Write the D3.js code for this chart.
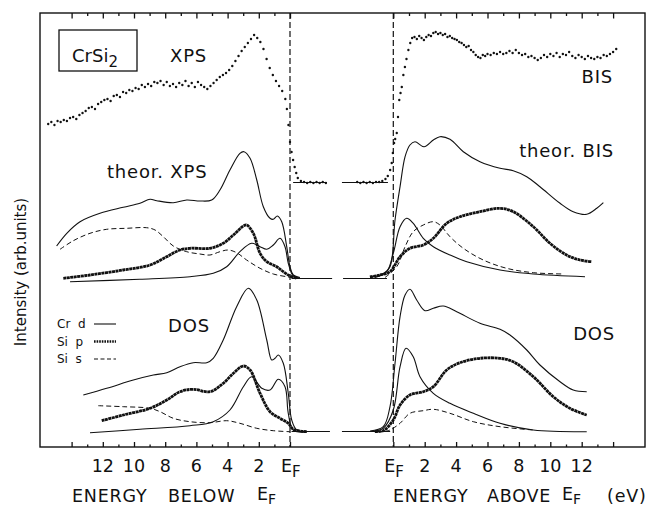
<!DOCTYPE html>
<html>
<head>
<meta charset="utf-8">
<title>CrSi2 XPS / BIS</title>
<script src="https://d3js.org/d3.v7.min.js"></script>
<style>
  body { margin: 0; background: #fff; }
  text { font-family: "DejaVu Sans", sans-serif; fill: #111; }
</style>
</head>
<body>
<div id="chart"></div>
<script>
// ---- data: [energy (eV from E_F), intensity (arb. units)] ----
// left panel: energy below E_F, right panel: energy above E_F

const xpsExp = [
  [15.5,323],[15.3,325],[15.1,322],[14.9,326],[14.7,325],[14.5,327],[14.3,326],[14.1,329],
  [13.9,330],[13.7,328],[13.5,332],[13.3,334],[13.1,336],[12.9,339],[12.7,340],[12.5,338],
  [12.3,343],[12.1,345],[11.9,347],[11.7,348],[11.5,346],[11.3,351],[11.1,352],[10.9,350],
  [10.7,355],[10.5,354],[10.3,357],[10.1,356],[9.9,359],[9.7,358],[9.5,362],[9.3,360],
  [9.1,363],[8.9,361],[8.7,365],[8.5,364],[8.3,366],[8.1,362],[7.9,365],[7.7,361],
  [7.5,363],[7.3,360],[7.1,364],[6.9,362],[6.7,366],[6.5,361],[6.3,364],[6.1,360],
  [5.9,365],[5.7,362],[5.5,360],[5.3,358],[5.1,361],[4.9,364],[4.7,367],[4.5,370],
  [4.3,372],[4.1,374],[3.9,377],[3.7,381],[3.5,386],[3.3,391],[3.1,396],[2.9,400],
  [2.7,404],[2.5,408],[2.3,412],[2.1,409],[1.9,405],[1.7,398],[1.5,388],[1.3,379],
  [1.1,372],[0.9,366],[0.7,361],[0.5,356],[0.3,348],[0.2,338],[0.1,322],[0.0,305],
  [-0.1,295],[-0.2,287],[-0.3,280],[-0.4,274],[-0.5,269],[-0.7,266],[-0.9,265],[-1.1,264],
  [-1.3,265],[-1.5,264],[-1.7,265],[-1.9,264],[-2.1,265],[-2.3,264]
];

const bisExp = [
  [-2.3,265],[-2.1,264],[-1.9,265],[-1.7,264],[-1.5,265],[-1.3,264],[-1.1,265],[-0.9,265],
  [-0.7,266],[-0.5,268],[-0.35,271],[-0.2,277],[-0.1,284],[-0.03,294],[0.05,304],[0.12,308],
  [0.22,314],[0.3,330],[0.38,347],[0.46,354],[0.54,360],[0.64,372],[0.74,380],[0.84,388],
  [0.96,397],[1.08,404],[1.2,409],[1.35,410],[1.5,408],[1.65,411],[1.8,409],[1.95,407],
  [2.1,410],[2.25,412],[2.4,411],[2.55,414],[2.7,415],[2.85,413],[3.0,414],[3.15,412],
  [3.3,413],[3.45,410],[3.6,411],[3.75,409],[3.9,408],[4.05,407],[4.2,405],[4.35,404],
  [4.5,402],[4.65,400],[4.8,401],[4.95,397],[5.1,395],[5.25,392],[5.4,390],[5.55,389],
  [5.7,392],[5.85,391],[6.0,393],[6.2,392],[6.4,394],[6.6,393],[6.8,395],[7.0,393],
  [7.2,394],[7.4,396],[7.6,394],[7.8,397],[8.0,394],[8.2,392],[8.4,393],[8.6,390],
  [8.8,391],[9.0,389],[9.2,387],[9.4,389],[9.6,392],[9.8,390],[10.0,393],[10.2,391],
  [10.4,394],[10.6,390],[10.8,393],[11.0,392],[11.2,395],[11.4,391],[11.6,389],[11.8,392],
  [12.0,390],[12.2,388],[12.4,391],[12.6,389],[12.8,388],[13.0,390],[13.2,389],[13.4,392],
  [13.6,391],[13.8,393],[14.0,395],[14.2,398]
];

// theoretical XPS (left)
const thXpsTotal = [
  [14.96,201],[14.31,213.7],[13.46,225.3],[12.18,233.7],[10.69,239.7],[9.62,243.7],[8.97,247.7],
  [8.54,246.3],[7.48,244.3],[6.62,247],[5.77,246],[5.02,247],[4.49,257],[3.85,277],[3.21,293.7],
  [2.95,295.3],[2.56,288.7],[2.13,267],[1.71,240.3],[1.28,228.7],[1.07,227.7],[0.81,231],
  [0.53,225.3],[0.21,200.3],[0,180.3],[-0.21,172],[-0.64,169.5]
];
const thXpsCrd = [
  [14.1,165.3],[9.62,167.7],[6.41,170.3],[4.92,173.7],[4.06,180.3],[3.21,195.3],[2.46,203.7],
  [1.92,200.3],[1.49,197.7],[1.07,202],[0.64,208.7],[0.32,200.3],[0.11,183.7],[-0.21,171],[-0.64,168.7]
];
const thXpsSip = [
  [14.53,168.7],[12.82,172],[10.69,177],[8.97,182],[7.9,190.3],[7.05,197],[6.41,198.7],[5.13,198.7],
  [4.28,203.7],[3.63,212],[2.99,221],[2.78,222],[2.35,213.7],[1.92,193.7],[1.49,185.3],[0.85,180.3],
  [0.43,175.3],[0,171],[-0.43,168.7]
];
const thXpsSis = [
  [14.74,197.7],[13.89,206.3],[12.82,213.7],[11.75,217.7],[10.47,218.7],[9.19,219.3],[8.65,217],
  [8.12,210.3],[7.48,201],[6.62,195.3],[5.77,193],[5.13,192],[4.49,195.3],[3.96,197],[3.42,194.3],
  [2.78,187],[1.92,178.7],[1.07,173],[0.21,170.3],[-0.32,169]
];

// theoretical BIS (right)
const thBisTotal = [
  [-1.48,170],[-0.66,173],[-0.21,180.3],[0.11,227],[0.43,260.3],[0.75,290.3],[1.06,302],[1.38,305.3],
  [1.96,300.3],[2.55,307],[2.97,310.3],[3.61,307.7],[4.46,295.3],[5.52,285.3],[6.8,278.7],[7.64,276.3],
  [8.5,270.3],[9.34,260.3],[10.62,243.7],[11.46,235.3],[12.32,232.7],[12.96,238.7],[13.38,244.3]
];
const thBisCrd = [
  [-1.17,169.5],[-0.42,175.3],[0,193.7],[0.43,220.3],[0.85,228.7],[1.27,223.7],[1.91,208.7],
  [2.55,200.3],[3.61,192],[4.68,185.3],[6.8,177],[8.92,173],[12.21,170.3]
];
const thBisSip = [
  [-1.49,170],[-0.85,172],[-0.21,175.3],[0.43,190.3],[1.06,198.7],[1.91,202],[2.55,208.7],[3.4,223.7],
  [4.25,230.3],[5.52,235.3],[6.8,238.7],[7.64,235.3],[8.92,220.3],[9.98,203.7],[11.04,192],
  [11.89,187],[12.64,185.3]
];
const thBisSis = [
  [-0.53,169.5],[0.22,180.3],[0.75,200.3],[1.27,215.3],[1.91,222],[2.55,225.3],[2.97,222],
  [3.61,210.3],[4.46,198.7],[5.73,187],[7.22,178.7],[8.92,174.3],[10.83,173]
];

// DOS (left)
const dosLTotal = [
  [13.25,52],[11.75,58.7],[10.04,67],[8.76,72],[7.9,74.3],[7.05,80.3],[6.2,84.3],[5.34,84.3],
  [4.92,88.7],[4.28,107],[3.42,140.3],[2.67,158.7],[2.13,147],[1.49,107],[1.17,87],[0.96,88.7],
  [0.75,92],[0.43,83.7],[0.11,53.7],[-0.11,27],[-0.43,17],[-1.07,15.3]
];
const dosLCrd = [
  [12.82,14.3],[9.62,17.7],[6.41,21.3],[4.92,25.3],[3.85,37],[2.99,60.3],[2.46,70.3],[1.81,58.7],
  [1.28,57],[0.75,67.7],[0.32,60.3],[0.11,33.7],[-0.21,17],[-1.07,15]
];
const dosLSip = [
  [12.07,26.3],[10.69,32],[8.97,38.7],[7.9,47],[7.05,55.3],[6.2,57.7],[5.13,55.3],[4.28,63.7],
  [3.63,73.7],[2.99,81],[2.56,77],[1.92,53.7],[1.28,35.3],[0.64,28.7],[0.11,23.7],[-0.21,17.7],[-1.07,15.3]
];
const dosLSis = [
  [12.29,41.3],[10.69,40.3],[8.97,38.7],[8.33,35.3],[7.48,28.7],[6.41,25.3],[5.13,24.3],[4.06,26.3],
  [3.21,23.7],[2.13,18.7],[1.07,16.3],[0,15.3]
];

// DOS (right)
const dosRTotal = [
  [-1.48,16],[-0.64,20.3],[-0.21,40.3],[0.11,83.7],[0.43,130.3],[0.75,152],[1.06,157.7],[1.49,147],
  [2.02,136.3],[2.55,138.7],[3.18,141],[4.04,135.3],[5.52,123.7],[6.8,117.7],[7.43,112],[8.5,97],
  [9.34,82],[10.62,65.3],[11.46,57],[12.32,55.3]
];
const dosRCrd = [
  [-1.48,15.5],[-0.64,18.7],[0,37],[0.43,80.3],[0.81,98.7],[1.27,90.3],[1.7,70.3],[2.55,53.7],
  [3.61,43.7],[5.1,33.7],[6.8,23.7],[8.92,17],[12.32,15.3]
];
const dosRSip = [
  [-1.17,15.5],[-0.64,16.3],[0,27],[0.43,42],[1.06,52],[1.91,55.3],[2.55,60.3],[3.4,77],[4.25,84.3],
  [5.52,88.7],[6.8,88.7],[7.64,85.3],[8.92,70.3],[10.19,50.3],[11.25,38.7],[12.32,32]
];
const dosRSis = [
  [-0.53,15.5],[-0.21,17],[0.43,23.7],[1.06,33.7],[1.91,36.3],[2.55,37.7],[3.61,33.7],[5.1,25.3],
  [6.8,20.3],[8.92,17]
];

// zero lines continued into the gap between the two panels: [from, to, level]
const gapLeft  = [[-0.2,-2.37,264.5],[-0.1,-2.7,168.5],[-0.1,-2.56,15.5]];
const gapRight = [[-3.27,-0.34,264.5],[-3.2,-0.4,168.5],[-3.27,-0.2,15.5]];

const tickVals = d3.range(0, 15);
const tickLabels = {2:"2",4:"4",6:"6",8:"8",10:"10",12:"12"};

// ---- layout ----
const W = 654, H = 510;
const frame = {left: 40, top: 13, right: 645, bottom: 447};

const svg = d3.select("#chart").append("svg")
    .attr("width", W).attr("height", H);

const xL = d3.scaleLinear().domain([0, 14]).range([290, 290 - 14 * 15.6]);
const xR = d3.scaleLinear().domain([0, 14]).range([393.3, 393.3 + 14 * 15.7]);
const y  = d3.scaleLinear().domain([0, 434]).range([frame.bottom, frame.top]);

// frame
svg.append("rect")
    .attr("x", frame.left).attr("y", frame.top)
    .attr("width", frame.right - frame.left).attr("height", frame.bottom - frame.top)
    .attr("fill", "none").attr("stroke", "#111").attr("stroke-width", 1.4);

// ticks
function ticks(scale) {
  const major = tickVals.filter(d => d % 2 === 0), minor = tickVals.filter(d => d % 2 === 1);
  [[major, 5], [minor, 2.5]].forEach(([vals, len]) => {
    const b = svg.append("g").attr("transform", "translate(0," + frame.bottom + ")")
        .call(d3.axisBottom(scale).tickValues(vals).tickSize(-len).tickFormat(""));
    const t = svg.append("g").attr("transform", "translate(0," + frame.top + ")")
        .call(d3.axisTop(scale).tickValues(vals).tickSize(-(len + 0.5)).tickFormat(""));
    [b, t].forEach(g => {
      g.select(".domain").remove();
      g.selectAll("line").attr("stroke", "#111").attr("stroke-width", 1.3);
    });
  });
  // labels
  const lab = svg.append("g").attr("font-size", 17.5);
  major.filter(d => tickLabels[d]).forEach(d => {
    lab.append("text").attr("x", scale(d)).attr("y", 472)
      .attr("text-anchor", "middle").text(tickLabels[d]);
  });
  const ef = lab.append("text").attr("x", scale(0) - 9).attr("y", 472);
  ef.append("tspan").text("E");
  ef.append("tspan").attr("dy", 5).attr("font-size", 15).text("F");
}
ticks(xL);
ticks(xR);

// dashed E_F lines
[xL(0), xR(0)].forEach(x => {
  svg.append("line").attr("x1", x).attr("x2", x)
     .attr("y1", frame.top).attr("y2", frame.bottom)
     .attr("stroke", "#111").attr("stroke-width", 1.2).attr("stroke-dasharray", "6,3");
});

// gap zero lines
function gaps(list, scale) {
  list.forEach(([a, b, v]) => {
    svg.append("line").attr("x1", scale(a)).attr("x2", scale(b))
       .attr("y1", y(v)).attr("y2", y(v)).attr("stroke", "#111").attr("stroke-width", 1);
  });
}
gaps(gapLeft, xL);
gaps(gapRight, xR);

// curves
const styles = {
  total: {w: 1.1, dash: null},
  crd:   {w: 1.1, dash: null},
  sip:   {w: 2.8, dash: "3,0.5"},
  sis:   {w: 1.0, dash: "5,3"}
};
function curve(data, scale, kind) {
  const line = d3.line().x(d => scale(d[0])).y(d => y(d[1]))
      .curve(d3.curveCatmullRom.alpha(0.5));
  const s = styles[kind];
  svg.append("path").datum(data).attr("d", line)
     .attr("fill", "none").attr("stroke", "#111")
     .attr("stroke-width", s.w).attr("stroke-linejoin", "round")
     .attr("stroke-dasharray", s.dash);
}
curve(thXpsTotal, xL, "total"); curve(thXpsCrd, xL, "crd");
curve(thXpsSip, xL, "sip");     curve(thXpsSis, xL, "sis");
curve(thBisTotal, xR, "total"); curve(thBisCrd, xR, "crd");
curve(thBisSip, xR, "sip");     curve(thBisSis, xR, "sis");
curve(dosLTotal, xL, "total");  curve(dosLCrd, xL, "crd");
curve(dosLSip, xL, "sip");      curve(dosLSis, xL, "sis");
curve(dosRTotal, xR, "total");  curve(dosRCrd, xR, "crd");
curve(dosRSip, xR, "sip");      curve(dosRSis, xR, "sis");

// experimental spectra as dots
function dots(data, scale) {
  svg.append("g").selectAll("circle").data(data).enter().append("circle")
     .attr("cx", d => scale(d[0])).attr("cy", d => y(d[1]))
     .attr("r", 1.2).attr("fill", "#111");
}
dots(xpsExp, xL);
dots(bisExp, xR);

// labels
svg.append("rect").attr("x", 59).attr("y", 30).attr("width", 78).attr("height", 41)
   .attr("fill", "none").attr("stroke", "#111").attr("stroke-width", 1.3);
const cr = svg.append("text").attr("x", 72).attr("y", 62).attr("font-size", 18);
cr.append("tspan").text("CrSi");
cr.append("tspan").attr("dy", 5).attr("font-size", 15).text("2");

function label(txt, x, yy, anchor) {
  svg.append("text").attr("x", x).attr("y", yy).attr("font-size", 18)
     .attr("letter-spacing", 0.8).attr("text-anchor", anchor || "start").text(txt);
}
label("XPS", 170, 62);
label("BIS", 613, 83, "end");
label("theor. BIS", 614, 157, "end");
label("theor. XPS", 107, 178);
label("DOS", 168, 332);
label("DOS", 615, 340, "end");

// legend
const legend = [["Cr d", "crd"], ["Si p", "sip"], ["Si s", "sis"]];
legend.forEach(([name, kind], i) => {
  const yy = 328 + i * 17.5;
  svg.append("text").attr("x", 57).attr("y", yy).attr("font-size", 12)
     .attr("xml:space", "preserve").text(name.replace(" ", "  "));
  svg.append("line").attr("x1", 94).attr("x2", 116).attr("y1", yy - 4).attr("y2", yy - 4)
     .attr("stroke", "#111").attr("stroke-width", kind === "sip" ? 2.4 : 1.1)
     .attr("stroke-dasharray", kind === "sip" ? "1.6,1" : (kind === "sis" ? "4,2.5" : null));
});

// axis titles
svg.append("text").attr("transform", "translate(26,272) rotate(-90)")
   .attr("text-anchor", "middle").attr("font-size", 15).text("Intensity (arb.units)");

const bottomWords = [["ENERGY", 72], ["BELOW", 168], ["ENERGY", 393], ["ABOVE", 487], ["(eV)", 607]];
bottomWords.forEach(([w, x]) => {
  svg.append("text").attr("x", x).attr("y", 502).attr("font-size", 17.5)
     .attr("letter-spacing", 0.8).text(w);
});
[257, 562].forEach(x => {
  const t = svg.append("text").attr("x", x).attr("y", 500).attr("font-size", 17.5);
  t.append("tspan").text("E");
  t.append("tspan").attr("dy", 4).attr("font-size", 14).text("F");
});
</script>
</body>
</html>
